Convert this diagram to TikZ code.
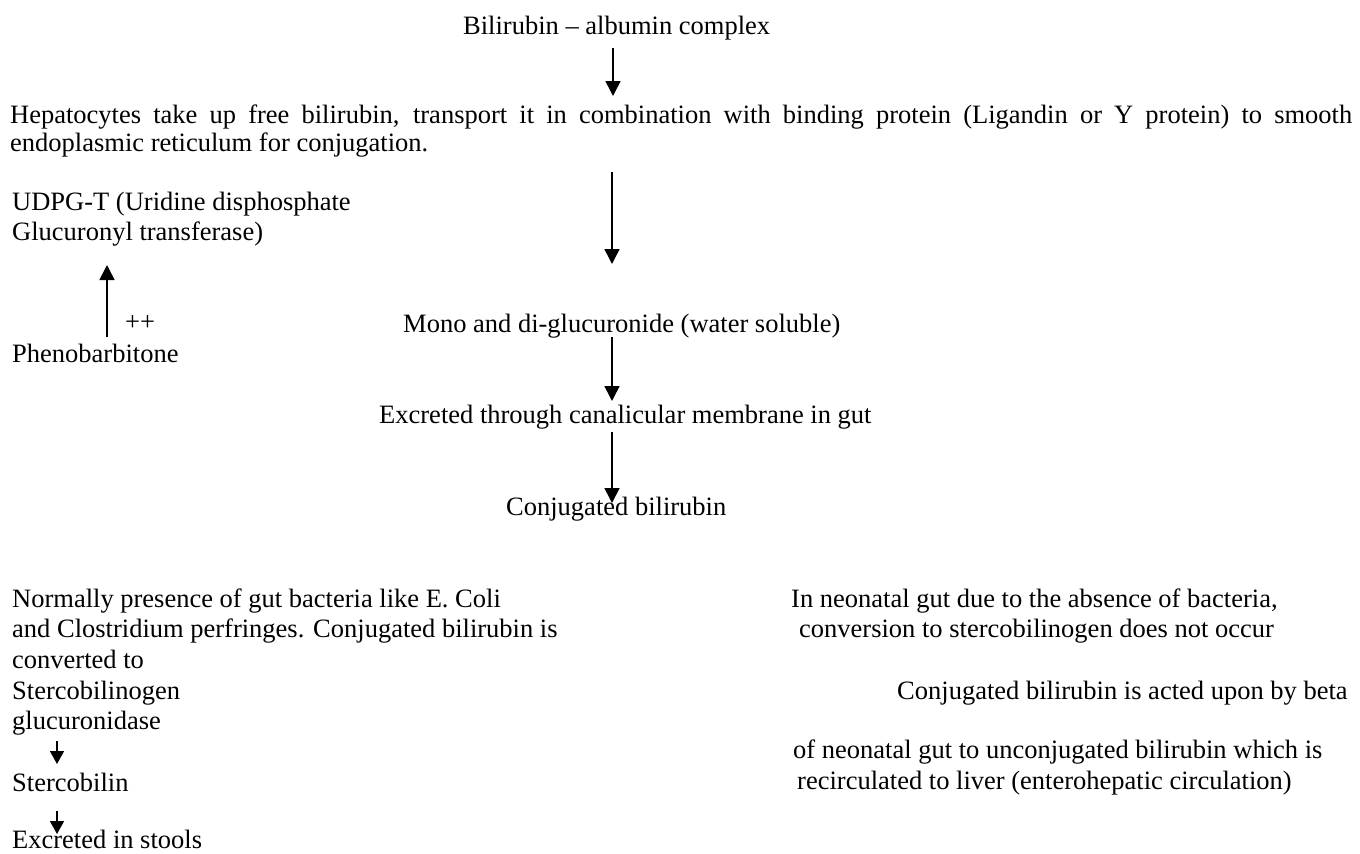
\documentclass[tikz,border=0pt]{standalone}
\usepackage{fontspec}
\setmainfont{Liberation Serif}
\usetikzlibrary{arrows.meta}
\tikzset{
  txt/.style={inner sep=0pt, anchor=base west, font=\fontsize{26.5}{30.5}\selectfont},
  flow/.style={line width=1.6pt, -{Triangle[width=15pt,length=15pt]}},
  smallflow/.style={line width=1.6pt, -{Triangle[width=14pt,length=13pt]}}
}
\begin{document}
\begin{tikzpicture}[x=1pt,y=-1pt]
\useasboundingbox (0,0) rectangle (1360,854);
% main column
\node[txt] (title) at (463,34) {Bilirubin -- albumin complex};
\node[txt] (hep1) at (10,123) {\makebox[1342pt][s]{Hepatocytes take up free bilirubin, transport it in combination with binding protein (Ligandin or Y protein) to smooth}};
\node[txt] (hep2) at (10,151) {endoplasmic reticulum for conjugation.};
\node[txt] (udp1) at (12,210) {UDPG-T (Uridine disphosphate};
\node[txt] (udp2) at (12,240) {Glucuronyl transferase)};
\node[txt] (pp) at (125,330) {++};
\node[txt] (pheno) at (12,362) {Phenobarbitone};
\node[txt] (mono) at (403,332) {Mono and di-glucuronide (water soluble)};
\node[txt] (excr) at (379,423) {Excreted through canalicular membrane in gut};
\node[txt] (conj) at (506,515) {Conjugated bilirubin};
% bottom left
\node[txt] (n1) at (12,607) {Normally presence of gut bacteria like E. Coli};
\node[txt] (n2) at (12,637) {and Clostridium perfringes. Conjugated bilirubin is};
\node[txt] (n3) at (12,668) {converted to};
\node[txt] (sgen) at (12,699) {Stercobilinogen};
\node[txt] (gluc) at (12,729) {glucuronidase};
\node[txt] (sbil) at (12,791) {Stercobilin};
\node[txt] (stool) at (12,848) {Excreted in stools};
% bottom right
\node[txt] (r1) at (791,607) {In neonatal gut due to the absence of bacteria,};
\node[txt] (r2) at (799,637) {conversion to stercobilinogen does not occur};
\node[txt] (r3) at (897,699) {Conjugated bilirubin is acted upon by beta};
\node[txt] (r4) at (793,758) {of neonatal gut to unconjugated bilirubin which is};
\node[txt] (r5) at (797,789) {recirculated to liver (enterohepatic circulation)};
% arrow end points
\coordinate (a1s) at (613,48);  \coordinate (a1e) at (613,96);
\coordinate (a2s) at (612,172); \coordinate (a2e) at (612,264);
\coordinate (a3s) at (612,337); \coordinate (a3e) at (612,401);
\coordinate (a4s) at (612,432); \coordinate (a4e) at (612,503);
\coordinate (aus) at (107,337); \coordinate (aue) at (107,265);
\coordinate (b1s) at (57,741);  \coordinate (b1e) at (57,764);
\coordinate (b2s) at (57,811);  \coordinate (b2e) at (57,834);
\draw[flow] (a1s) -- (a1e);
\draw[flow] (a2s) -- (a2e);
\draw[flow] (a3s) -- (a3e);
\draw[flow] (a4s) -- (a4e);
\draw[flow] (aus) -- (aue);
\draw[smallflow] (b1s) -- (b1e);
\draw[smallflow] (b2s) -- (b2e);
\end{tikzpicture}
\end{document}
